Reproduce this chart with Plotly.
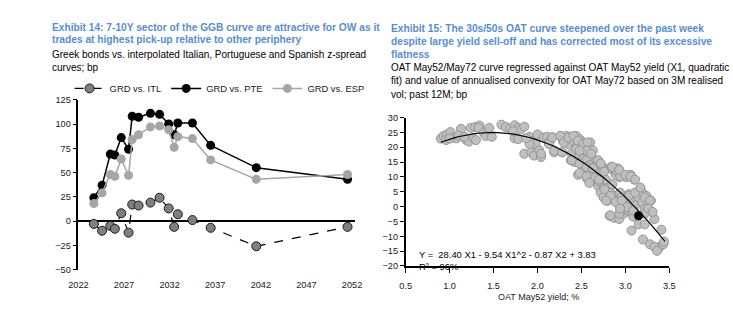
import plotly.graph_objects as go

FONT = "Liberation Sans, Arial, sans-serif"
BLUE = "#558ED5"
W, H = 733, 334

# ---- Exhibit 14: Greek z-spread pick-up vs. other periphery (bp) ----
maturity = [2023.7, 2024.6, 2025.5, 2026.0, 2026.7, 2027.5, 2027.9, 2028.6, 2029.9,
            2030.9, 2031.9, 2032.5, 2032.9, 2034.5, 2036.5, 2041.5, 2051.5]
grd_itl = [-3, -10, -5, -8, 8, -12, 17, 16, 19, 24, 13, -6, 7, 1, -7, -26, -6]
grd_pte = [24, 37, 69, 68, 86, 74, 108, 107, 111, 110, 100, 89, 101, 101, 78, 55, 43]
grd_esp = [18, 29, 48, 46, 64, 47, 84, 89, 97, 98, 94, 76, 87, 85, 63, 43, 48]
left_ticks = [2022, 2027, 2032, 2037, 2042, 2047, 2052]

# ---- Exhibit 15: OAT May52/May72 curve vs. May52 yield ----
oat52_yield = [
    0.90, 0.93, 0.97, 1.01, 0.96, 1.04, 1.08, 1.13, 1.10, 1.19, 1.22, 1.24, 1.27, 1.29,
    1.30, 1.34, 1.33, 1.39, 1.41, 1.45, 1.48, 1.17, 1.00,
    1.59, 1.64, 1.69, 1.74, 1.78, 1.81, 1.85, 1.74, 1.78, 1.72,
    1.85, 1.91, 1.93, 1.94, 1.96, 1.98, 2.00, 2.02, 2.04, 2.04, 1.91, 1.87, 2.07, 2.11,
    2.14, 2.17, 2.19, 2.13,
    2.26, 2.29, 2.33, 2.35, 2.38, 2.41, 2.44, 2.46, 2.48, 2.51, 2.54, 2.56, 2.60, 2.63,
    2.28, 2.39, 2.44, 2.48, 2.52, 2.57, 2.38, 2.42, 2.48, 2.56, 2.59, 2.67, 2.65, 2.69,
    2.70, 2.74,
    2.46, 2.56, 2.52, 2.59, 2.63, 2.67, 2.70, 2.69, 2.74, 2.76, 2.72, 2.78, 2.81, 2.83,
    2.85, 2.88, 2.75, 2.80, 2.90, 2.94,
    2.84, 2.87, 2.91, 2.93, 2.96, 3.01, 3.06, 3.10, 2.89,
    2.96, 3.00, 3.04, 3.07, 3.11, 3.15, 3.17, 3.19, 3.22, 3.24, 3.29, 3.19, 2.94, 3.05,
    3.22,
    2.82, 2.87, 2.93, 2.98, 2.96, 3.04, 3.07, 3.15, 3.22, 3.07, 3.20, 3.28, 3.33, 3.39,
    3.41, 3.33, 3.36, 3.43, 3.44, 3.28, 3.22, 2.93, 3.09,
    2.17, 2.26, 2.30, 2.35, 2.41, 2.46, 2.52, 2.57, 2.56, 2.61, 2.48, 2.39, 2.48, 2.56,
    2.63, 2.69, 2.72, 2.76, 2.48, 2.56, 2.65, 2.70, 2.59, 2.85, 2.91, 2.94, 2.19, 2.28,
    2.72, 2.85, 2.93, 3.00, 3.06, 3.11, 2.70, 2.76, 2.83, 2.78, 2.89, 2.96, 3.04, 3.11,
    3.17, 3.22, 3.28, 3.02, 3.09, 2.94, 2.83, 3.26, 3.31,
]
curve_bp = [
    22.9, 23.8, 24.3, 25.1, 22.4, 23.2, 23.0, 26.2, 23.9, 22.4, 21.9, 26.5, 23.0, 26.8,
    22.4, 27.3, 26.5, 24.8, 23.8, 26.5, 23.5, 23.5, 22.9,
    27.6, 26.8, 26.3, 27.4, 26.5, 26.0, 26.9, 23.0, 22.7, 25.4,
    17.8, 23.5, 18.3, 22.1, 17.2, 21.1, 24.3, 18.9, 16.7, 17.8, 21.1, 23.0, 23.3, 23.5,
    22.1, 23.3, 18.3, 21.1,
    23.8, 22.1, 23.8, 21.1, 23.5, 22.1, 23.8, 21.1, 22.7, 21.6, 20.0, 21.1, 21.6, 18.9,
    18.3, 17.8, 19.4, 17.8, 16.1, 17.8, 15.6, 15.0, 14.5, 15.6, 14.0, 15.6, 13.4, 14.5,
    12.4, 13.4,
    10.7, 9.6, 12.4, 11.3, 10.2, 8.5, 9.6, 6.9, 7.5, 5.8, 4.7, 9.0, 6.4, 4.7,
    7.5, 3.6, 3.1, 2.0, 2.0, 4.7,
    13.4, 12.1, 12.9, 9.9, 10.7, 9.9, 10.7, 9.1, 10.7,
    3.1, 0.6, 4.2, 2.0, 0.4, 3.1, 6.0, 4.7, 2.5, 3.6, 2.0, 1.5, -0.2, -1.3,
    -0.7,
    -3.1, -3.8, -4.2, -2.4, -1.3, -1.6, -2.0, -6.0, -6.0, -8.1, -11.1, -12.7, -4.2, -13.6,
    -7.8, -13.6, -14.9, -12.7, -11.8, -1.3, -2.4, -2.4, -3.4,
    23.3, 23.8, 21.6, 23.2, 23.8, 22.2, 21.1, 21.6, 18.9, 17.8, 18.9, 15.6, 14.5, 13.4,
    12.9, 15.6, 14.0, 11.8, 11.3, 10.2, 9.6, 8.5, 8.0, 12.9, 11.8, 10.2, 18.9, 18.3,
    14.5, 13.4, 12.4, 10.7, 10.2, 9.1, 9.1, 5.8, 3.6, 2.0, 1.5, 2.0, 3.6, 4.7,
    6.4, 3.1, 2.0, -0.2, -1.3, -0.7, -2.9, -0.7, -1.8,
]
latest_yield = [3.15]
latest_bp = [-3.1]

# Regression coefficients as printed: Y = a*X1 + b*X1^2 + c*X2 + d
coef_x1, coef_x1sq, coef_x2, intercept = 28.40, -9.54, -0.87, 3.83
fit_start, fit_end, fit_steps = 0.90, 3.45, 60
fit_x = [fit_start + (fit_end - fit_start) * i / fit_steps for i in range(fit_steps + 1)]
fit_y = [coef_x1 * x + coef_x1sq * x * x + intercept for x in fit_x]

fig = go.Figure()

# Left panel traces
fig.add_trace(go.Scatter(
    x=maturity, y=grd_itl, name="GRD vs. ITL", mode="lines+markers",
    line=dict(color="#000000", width=1.2, dash="dash"),
    marker=dict(size=9, color="#7F7F7F", line=dict(color="#1A1A1A", width=1)),
    xaxis="x", yaxis="y"))
fig.add_trace(go.Scatter(
    x=maturity, y=grd_pte, name="GRD vs. PTE", mode="lines+markers",
    line=dict(color="#000000", width=1.5),
    marker=dict(size=9, color="#000000"),
    xaxis="x", yaxis="y"))
fig.add_trace(go.Scatter(
    x=maturity, y=grd_esp, name="GRD vs. ESP", mode="lines+markers",
    line=dict(color="#A6A6A6", width=1.5),
    marker=dict(size=9, color="#A6A6A6"),
    xaxis="x", yaxis="y"))

# Right panel traces
fig.add_trace(go.Scatter(
    x=oat52_yield, y=curve_bp, mode="markers", showlegend=False,
    marker=dict(size=9, color="#BFBFBF", line=dict(color="#969696", width=1)),
    xaxis="x2", yaxis="y2"))
fig.add_trace(go.Scatter(
    x=fit_x, y=fit_y, mode="lines", showlegend=False,
    line=dict(color="#000000", width=1.2),
    xaxis="x2", yaxis="y2"))
fig.add_trace(go.Scatter(
    x=latest_yield, y=latest_bp, mode="markers", showlegend=False,
    marker=dict(size=9, color="#000000"),
    xaxis="x2", yaxis="y2"))


def px_x(p):
    return p / W


def px_y(p):
    return 1 - p / H


tick_font = dict(family=FONT, size=9.2, color="#1A1A1A")

fig.update_layout(
    width=W, height=H,
    margin=dict(l=0, r=0, t=0, b=0),
    paper_bgcolor="white", plot_bgcolor="white",
    font=dict(family=FONT, size=9.2, color="#1A1A1A"),
    showlegend=True,
    legend=dict(orientation="h", x=px_x(61), y=px_y(86), xanchor="left", yanchor="middle",
                font=dict(family=FONT, size=9.4, color="#1A1A1A"),
                bgcolor="rgba(0,0,0,0)", itemwidth=30, tracegroupgap=0),
    xaxis=dict(domain=[px_x(70), px_x(353)], range=[2022, 2052.3],
               tickvals=left_ticks, ticktext=[str(t) for t in left_ticks],
               showline=False, showgrid=False, zeroline=False,
               ticks="outside", ticklen=6, tickcolor="rgba(0,0,0,0)",
               tickfont=tick_font, anchor="y"),
    yaxis=dict(domain=[px_y(272.7), px_y(97.7)], range=[-50, 125],
               tickvals=[-50, -25, 0, 25, 50, 75, 100, 125],
               showline=True, linecolor="#000000", linewidth=1.5,
               showgrid=False, zeroline=True, zerolinecolor="#000000", zerolinewidth=1.5,
               ticks="outside", ticklen=4, tickcolor="#000000", tickwidth=1,
               tickfont=tick_font, anchor="x"),
    xaxis2=dict(domain=[px_x(405), px_x(675)], range=[0.5, 3.5],
                tickvals=[0.5, 1.0, 1.5, 2.0, 2.5, 3.0, 3.5],
                ticktext=["0.5", "1.0", "1.5", "2.0", "2.5", "3.0", "3.5"],
                showline=True, linecolor="#000000", linewidth=1.5,
                showgrid=False, zeroline=False,
                ticks="outside", ticklen=5, tickcolor="#000000", tickwidth=1.2,
                ticklabelstandoff=5,
                tickfont=tick_font, anchor="y2"),
    yaxis2=dict(domain=[px_y(269), px_y(116)], range=[-20, 30],
                tickvals=[-20, -15, -10, -5, 0, 5, 10, 15, 20, 25, 30],
                showline=True, linecolor="#000000", linewidth=1.5,
                showgrid=False, zeroline=False,
                ticks="outside", ticklen=4, tickcolor="#000000", tickwidth=1.2,
                tickfont=tick_font, anchor="x2"),
)

annotations = []


def text_line(txt, x, y, size, color, bold=False):
    if bold:
        txt = "<b>" + txt + "</b>"
    annotations.append(dict(text=txt, x=px_x(x), y=px_y(y), xref="paper", yref="paper",
                            xanchor="left", yanchor="middle", showarrow=False,
                            font=dict(family=FONT, size=size, color=color)))


TITLE_SIZE = 10.2
SUB_SIZE = 10

# Left titles
text_line("Exhibit 14: 7-10Y sector of the GGB curve are attractive for OW as it", 41, 23, TITLE_SIZE, BLUE, True)
text_line("trades at highest pick-up relative to other periphery", 41, 36, TITLE_SIZE, BLUE, True)
text_line("Greek bonds vs. interpolated Italian, Portuguese and Spanish z-spread", 41, 51.5, SUB_SIZE, "#000000")
text_line("curves; bp", 41, 64.5, SUB_SIZE, "#000000")

# Right titles
text_line("Exhibit 15: The 30s/50s OAT curve steepened over the past week", 388, 24, TITLE_SIZE, BLUE, True)
text_line("despite large yield sell-off and has corrected most of its excessive", 388, 37.5, TITLE_SIZE, BLUE, True)
text_line("flatness", 388, 51, TITLE_SIZE, BLUE, True)
text_line("OAT May52/May72 curve regressed against OAT May52 yield (X1, quadratic", 388, 64.5, SUB_SIZE, "#000000")
text_line("fit) and value of annualised convexity for OAT May72 based on 3M realised", 388, 78, SUB_SIZE, "#000000")
text_line("vol; past 12M; bp", 388, 92, SUB_SIZE, "#000000")

# Regression labels
text_line("Y =  %.2f X1 - %.2f X1^2 - %.2f X2 + %.2f" % (coef_x1, -coef_x1sq, -coef_x2, intercept),
          417, 257, 9.4, "#000000")
text_line("R² = 96%", 417, 269.5, 9.4, "#000000")

# Axis title
annotations.append(dict(text="OAT May52 yield; %", x=px_x(541), y=px_y(301), xref="paper", yref="paper",
                        xanchor="center", yanchor="middle", showarrow=False,
                        font=dict(family=FONT, size=9, color="#1A1A1A")))

fig.update_layout(annotations=annotations)

fig.write_html("out.html")
